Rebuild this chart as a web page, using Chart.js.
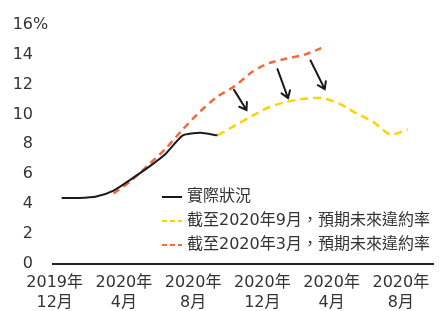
<!DOCTYPE html>
<html>
<head>
<meta charset="utf-8">
<script src="https://cdn.jsdelivr.net/npm/chart.js@4"></script>
<style>
  body { margin: 0; background: #fff; }
</style>
</head>
<body>
<canvas id="chart" width="447" height="311"></canvas>
<script>
// months counted from 2019-12 (= 0)
const monthTicks = [0, 4, 8, 12, 16, 20];
const tickLabels = [['2019年', '12月'], ['2020年', '4月'], ['2020年', '8月'], ['2020年', '12月'], ['2020年', '4月'], ['2020年', '8月']];
const yTicks = [0, 2, 4, 6, 8, 10, 12, 14, 16];

const actualStart = 0;
const actual = [4.4, 4.4, 4.5, 4.9, 5.65, 6.45, 7.35, 8.6, 8.77, 8.6];
const sepStart = 9;
const forecastSep = [8.6, 9.25, 9.9, 10.5, 10.85, 11.05, 11.1, 10.75, 10.1, 9.5, 8.65, 9.0];
const marStart = 3;
const forecastMar = [4.7, 5.55, 6.6, 7.7, 9.0, 10.2, 11.2, 11.9, 12.85, 13.45, 13.75, 14.0, 14.45];

const seriesNames = ['實際狀況', '截至2020年9月，預期未來違約率', '截至2020年3月，預期未來違約率'];

// arrows: [month, value] start -> end
const arrowFrom = [[9.96, 11.65], [12.47, 13.04], [14.38, 13.62]];
const arrowTo = [[10.68, 10.3], [13.08, 11.1], [15.2, 11.7]];

const FONT = '"DejaVu Sans", "Noto Sans CJK TC", sans-serif';
const TEXT = '#333';

const toPoints = (start, vals) => vals.map((v, i) => ({ x: start + i, y: v }));

const extras = {
  id: 'extras',
  afterDraw(chart) {
    const { ctx, scales: { x, y } } = chart;
    ctx.save();
    // y tick labels, "%" hanging after the top number
    ctx.font = '16px ' + FONT;
    ctx.fillStyle = TEXT;
    ctx.textBaseline = 'middle';
    yTicks.forEach(v => {
      const py = y.getPixelForValue(v);
      ctx.textAlign = 'right';
      ctx.fillText(String(v), 33, py);
      if (v === 16) {
        ctx.textAlign = 'left';
        ctx.fillText('%', 33, py);
      }
    });

    // arrows
    ctx.strokeStyle = '#1a1a1a';
    ctx.lineWidth = 2;
    ctx.lineCap = 'round';
    arrowFrom.forEach((f, i) => {
      const x0 = x.getPixelForValue(f[0]), y0 = y.getPixelForValue(f[1]);
      const x1 = x.getPixelForValue(arrowTo[i][0]), y1 = y.getPixelForValue(arrowTo[i][1]);
      const a = Math.atan2(y1 - y0, x1 - x0);
      ctx.beginPath();
      ctx.moveTo(x0, y0);
      ctx.lineTo(x1, y1);
      ctx.moveTo(x1 - 8 * Math.cos(a - 0.6), y1 - 8 * Math.sin(a - 0.6));
      ctx.lineTo(x1, y1);
      ctx.lineTo(x1 - 8 * Math.cos(a + 0.6), y1 - 8 * Math.sin(a + 0.6));
      ctx.stroke();
    });

    // legend
    const lx = 162, ly = 197, gap = 24;
    chart.data.datasets.forEach((ds, i) => {
      const yy = ly + i * gap;
      ctx.beginPath();
      ctx.strokeStyle = ds.borderColor;
      ctx.lineWidth = 2;
      ctx.lineCap = 'butt';
      ctx.setLineDash(ds.borderDash ? [5, 3] : []);
      ctx.moveTo(lx, yy);
      ctx.lineTo(lx + 20, yy);
      ctx.stroke();
      ctx.setLineDash([]);
      ctx.fillStyle = TEXT;
      ctx.textAlign = 'left';
      ctx.fillText(ds.label, lx + 25, yy);
    });
    ctx.restore();
  }
};

new Chart(document.getElementById('chart'), {
  type: 'line',
  data: {
    datasets: [
      {
        label: seriesNames[0],
        data: toPoints(actualStart, actual),
        borderColor: '#1a1a1a',
        borderWidth: 2,
        tension: 0.2
      },
      {
        label: seriesNames[1],
        data: toPoints(sepStart, forecastSep),
        borderColor: '#FFD200',
        borderWidth: 2.5,
        borderDash: [8, 5],
        tension: 0.25
      },
      {
        label: seriesNames[2],
        data: toPoints(marStart, forecastMar),
        borderColor: '#F26B3B',
        borderWidth: 2.5,
        borderDash: [7, 5],
        tension: 0.25
      }
    ]
  },
  options: {
    responsive: false,
    animation: false,
    // negative bottom: chart.js reserves the tick padding twice under the axis
    layout: { padding: { left: 53, right: 12, top: 25, bottom: -11 } },
    elements: { point: { radius: 0 } },
    scales: {
      x: {
        type: 'linear',
        min: -0.5,
        max: 21.5,
        afterBuildTicks: s => { s.ticks = monthTicks.map(v => ({ value: v })); },
        grid: { display: false, drawTicks: false, tickLength: 0 },
        border: { display: true, color: '#222', width: 2 },
        ticks: {
          color: TEXT,
          font: { family: FONT, size: 16, lineHeight: 1.2 },
          padding: 10,
          labelOffset: -7,
          maxRotation: 0,
          autoSkip: false,
          callback: v => tickLabels[monthTicks.indexOf(v)]
        }
      },
      y: {
        display: false,
        min: 0,
        max: 16
      }
    },
    plugins: {
      legend: { display: false },
      tooltip: { enabled: false }
    }
  },
  plugins: [extras]
});
</script>
</body>
</html>
